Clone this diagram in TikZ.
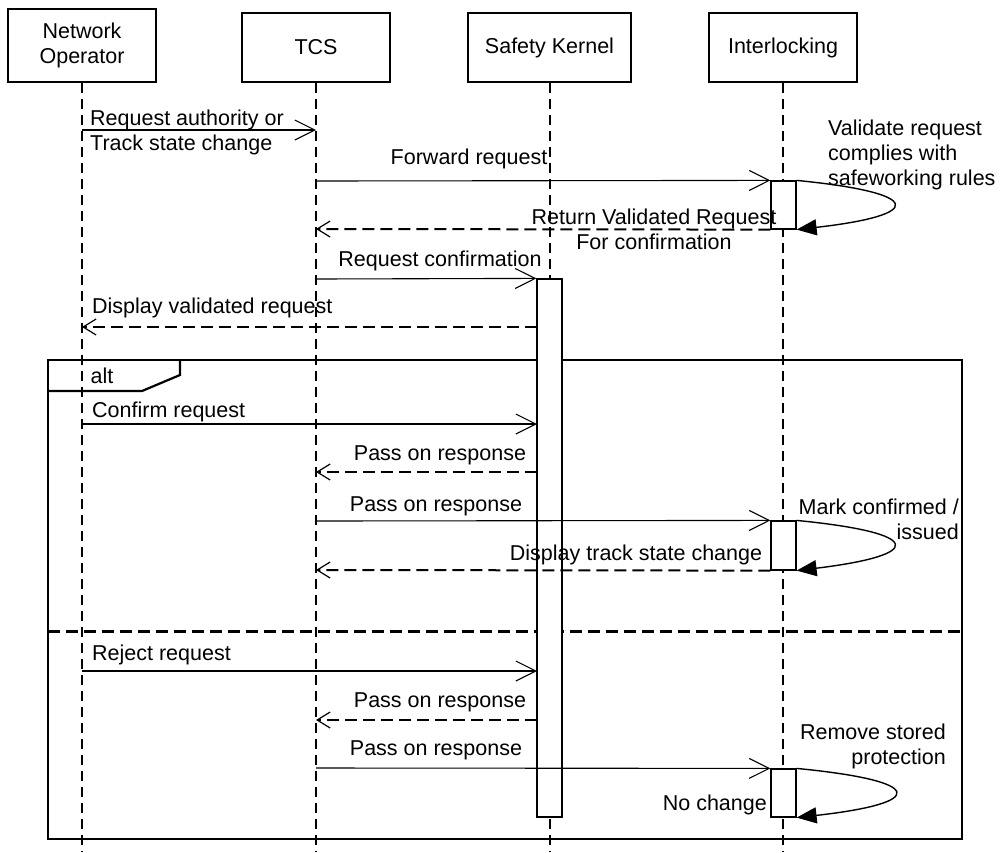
\documentclass[tikz,border=0pt]{standalone}
\usepackage{fontspec}
\setmainfont{Liberation Sans}
\usetikzlibrary{arrows.meta}
\begin{document}
\begin{tikzpicture}[x=1pt,y=-1pt,
  txt/.style={font=\fontsize{21.5}{25}\selectfont, inner sep=0pt},
  actor/.style={draw, line width=1.3pt, fill=white, font=\fontsize{21.5}{25}\selectfont, align=center, inner sep=0pt, minimum height=69pt, minimum width=148pt},
  life/.style={line width=2pt, dash pattern=on 10pt off 6pt},
  act/.style={draw, line width=1.2pt, fill=white, minimum width=25pt, inner sep=0pt},
  msg/.style={line width=1.1pt, -{Straight Barb[length=20pt,width=20pt,line width=1.1pt]}},
  ret/.style={line width=2pt, dash pattern=on 12pt off 6pt, -{Straight Barb[length=13pt,width=16pt,line width=1.2pt]}},
  self/.style={line width=1.4pt, -{Triangle[length=20pt,width=16pt]}},
  frame/.style={line width=2.2pt},
  sep/.style={line width=3pt, dash pattern=on 12pt off 6pt}
]
\useasboundingbox (0,0) rectangle (1000,852);
% actors
\node[actor, minimum height=73pt] (no) at (82,45.5) {Network\\Operator};
\node[actor] (tcs) at (316,47.5) {TCS};
\node[actor, minimum width=163pt] (sk) at (549.5,47.5) {Safety Kernel};
\node[actor] (il) at (783,47.5) {Interlocking};
% lifeline ends
\coordinate (noE) at (82,852);
\coordinate (tcsE) at (316,852);
\coordinate (skE) at (549.5,852);
\coordinate (ilE) at (783,852);
\draw[life] (no.south) -- (noE);
\draw[life] (tcs.south) -- (tcsE);
\draw[life] (sk.south) -- (skE);
\draw[life] (il.south) -- (ilE);
% alt frame
\coordinate (frNW) at (48,360);
\coordinate (frSE) at (962,839);
\draw[frame] (frNW) rectangle (frSE);
\node[txt, draw=none] (altlbl) at (102,376) {alt};
\draw[frame] (48,391) -- (142,391) -- (180,375) -- (180,360);
\coordinate (sepL) at (48,631);
\coordinate (sepR) at (962,631);
\draw[sep] (sepL) -- (sepR);
% activations
\node[act, minimum height=538pt] (actSK) at (549.5,548) {};
\node[act, minimum height=48pt] (actIL1) at (783.5,205) {};
\node[act, minimum height=49pt] (actIL2) at (783.5,545.5) {};
\node[act, minimum height=48pt] (actIL3) at (783.5,793) {};
% lifeline points
\coordinate (no1) at (82,130);
\coordinate (tcs1) at (316,130);
\coordinate (tcs2) at (316,181);
\coordinate (tcs3) at (316,229);
\coordinate (tcs4) at (316,279);
\coordinate (sk5) at (537,327);
\coordinate (no5) at (82,327);
\coordinate (no6) at (82,424);
\coordinate (sk6) at (537,424);
\coordinate (sk7) at (537,472);
\coordinate (tcs7) at (316,472);
\coordinate (tcs8) at (316,521);
\coordinate (tcs9) at (316,570);
\coordinate (no10) at (82,671);
\coordinate (sk10) at (537,671);
\coordinate (sk11) at (537,720);
\coordinate (tcs11) at (316,720);
\coordinate (tcs12) at (316,768);
% messages
\draw[msg] (no1) -- (tcs1);
\node[txt, align=left, anchor=west] (l1) at (90,132) {Request authority or\\Track state change};
\draw[msg] (tcs2) -- (actIL1.north west);
\node[txt] (l2) at (469,159) {Forward request};
\draw[self] (actIL1.north east) .. controls (925,193) and (925,215) .. (actIL1.south east);
\node[txt, align=left, anchor=west] (l3) at (828,155) {Validate request\\complies with\\safeworking rules};
\draw[ret] (actIL1.south west) -- (tcs3);
\node[txt, align=center] (l4) at (654,229) {Return Validated Request\\For confirmation};
\draw[msg] (tcs4) -- (actSK.north west);
\node[txt] (l5) at (440,261) {Request confirmation};
\draw[ret] (sk5) -- (no5);
\node[txt, anchor=west] (l6) at (92,308) {Display validated request};
% alt part 1
\draw[msg] (no6) -- (sk6);
\node[txt, anchor=west] (l7) at (92,412) {Confirm request};
\draw[ret] (sk7) -- (tcs7);
\node[txt] (l8) at (440,455) {Pass on response};
\draw[msg] (tcs8) -- (actIL2.north west);
\node[txt] (l9) at (436,506) {Pass on response};
\draw[self] (actIL2.north east) .. controls (925,533) and (925,555) .. (actIL2.south east);
\node[txt, align=right, anchor=east] (l10) at (959,519) {Mark confirmed /\\issued};
\draw[ret] (actIL2.south west) -- (tcs9);
\node[txt] (l11) at (636,555) {Display track state change};
% alt part 2
\draw[msg] (no10) -- (sk10);
\node[txt, anchor=west] (l12) at (92,655) {Reject request};
\draw[ret] (sk11) -- (tcs11);
\node[txt] (l13) at (440,702) {Pass on response};
\draw[msg] (tcs12) -- (actIL3.north west);
\node[txt] (l14) at (436,750) {Pass on response};
\draw[self] (actIL3.north east) .. controls (927,781) and (927,803) .. (actIL3.south east);
\node[txt, align=right, anchor=east] (l15) at (946,746) {Remove stored\\protection};
\node[txt, anchor=east] (l16) at (767,805) {No change};
\end{tikzpicture}
\end{document}
